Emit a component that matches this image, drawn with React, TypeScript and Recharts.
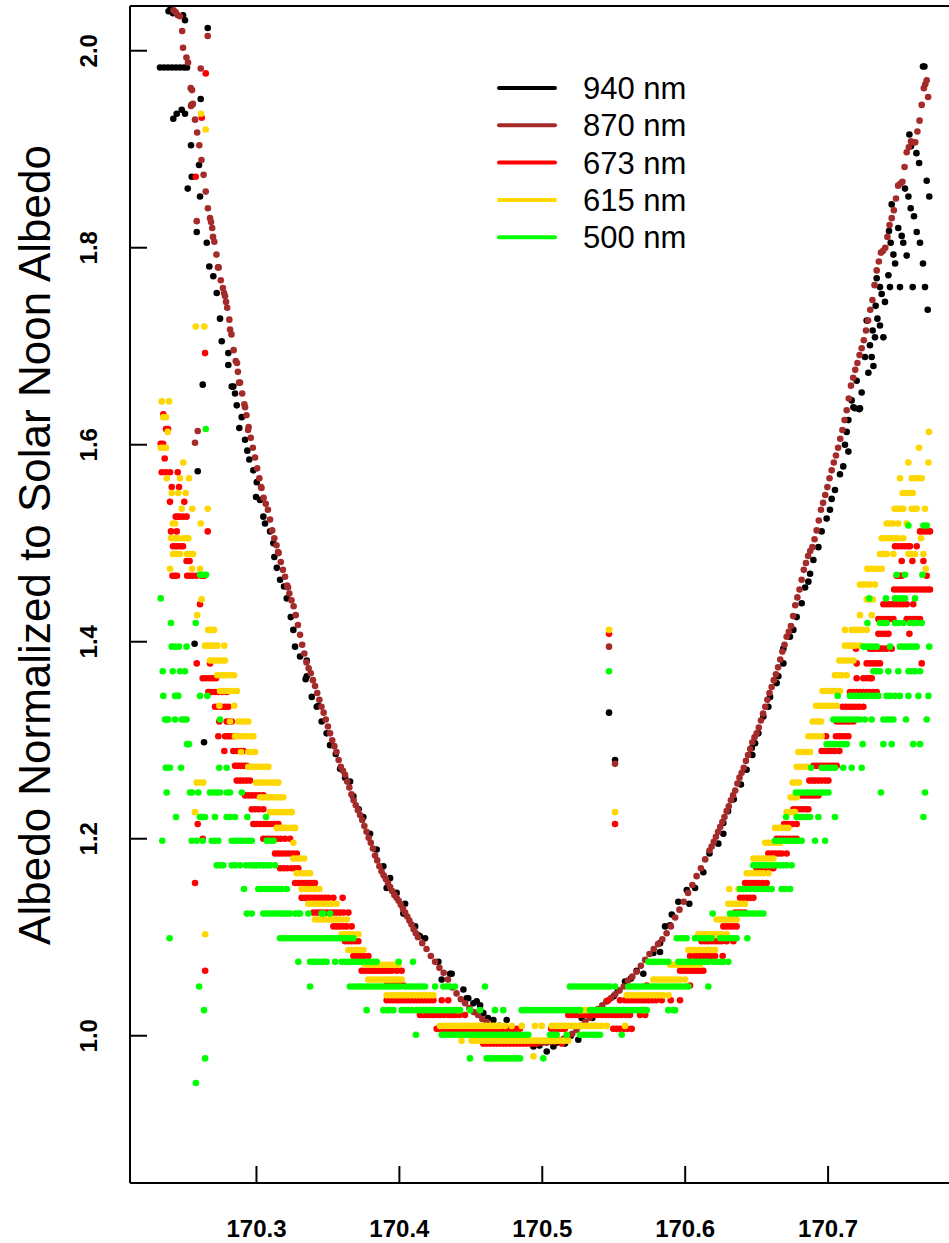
import React from 'react';
import { ScatterChart, Scatter, XAxis, YAxis, ReferenceLine } from 'recharts';

// ---------- axes ----------
const xDomain: [number, number] = [170.2115, 170.7923];
const yDomain: [number, number] = [0.8505, 2.0454];
const xTicks = [170.3, 170.4, 170.5, 170.6, 170.7];
const yTicks = [1.0, 1.2, 1.4, 1.6, 1.8, 2.0];
const yTitle = 'Albedo Normalized to Solar Noon Albedo';
const seriesNames = ['940 nm', '870 nm', '673 nm', '615 nm', '500 nm'];

// ---------- 940 nm (x, albedo) ----------
const nm940: [number, number][] = [
  [170.2325,1.983],[170.2353,1.983],[170.2381,1.983],[170.2409,1.983],[170.2437,1.983],[170.2465,1.983],[170.2493,1.983],[170.2514,1.983],
  [170.2385,2.040],[170.2400,2.044],[170.2416,2.038],[170.2486,2.036],[170.2500,2.031],
  [170.2418,1.931],[170.2442,1.936],[170.2477,1.940],[170.2500,1.936],[170.2547,1.945],[170.2610,1.951],
  [170.2542,1.904],[170.2598,1.884],[170.2547,1.872],[170.2519,1.860],[170.2605,1.852],[170.2582,1.816],[170.2652,1.805],[170.2670,1.781],
  [170.2698,1.771],[170.2722,1.754],[170.2745,1.728],[170.2757,1.705],[170.2803,1.693],[170.2803,1.681],[170.2838,1.659],
  [170.2659,2.023],[170.2624,1.661],[170.2589,1.573],[170.2567,1.398],[170.2633,1.298],
  [170.2827,1.659],[170.2850,1.652],[170.2862,1.640],[170.2897,1.628],[170.2880,1.617],[170.2920,1.605],[170.2936,1.594],[170.2950,1.585],
  [170.2978,1.574],[170.3002,1.562],[170.2997,1.547],[170.3025,1.544],[170.3048,1.527],[170.3060,1.520],[170.3095,1.512],[170.3118,1.500],
  [170.3125,1.486],[170.3142,1.475],[170.3165,1.463],[170.3193,1.456],[170.3212,1.444],[170.3240,1.425],[170.3258,1.412],[170.3270,1.395],
  [170.3305,1.385],[170.3352,1.365],[170.3387,1.344],[170.3422,1.334],[170.3456,1.319],[170.3491,1.307],[170.3515,1.295],
  [170.3344,1.362],[170.3352,1.381],[170.3433,1.335],[170.3555,1.286],[170.3585,1.271],[170.3620,1.262],[170.3655,1.258],[170.3678,1.243],
  [170.3715,1.230],[170.3748,1.222],[170.3795,1.205],[170.3841,1.189],[170.3888,1.172],[170.3935,1.160],[170.3981,1.145],[170.4040,1.134],
  [170.3911,1.150],[170.4028,1.124],[170.4110,1.111],[170.4133,1.102],[170.4144,1.101],[170.4180,1.099],[170.4273,1.075],[170.4296,1.057],
  [170.4355,1.063],[170.4366,1.063],[170.4448,1.047],[170.4471,1.038],[170.4482,1.038],[170.4518,1.033],[170.4541,1.035],[170.4565,1.031],
  [170.4565,1.026],[170.4588,1.023],[170.4620,1.018],[170.4658,1.016],[170.4700,1.010],[170.4751,1.016],[170.4800,1.003],[170.4850,0.998],
  [170.4880,0.993],[170.4938,0.989],[170.4980,0.990],[170.5031,0.984],[170.5078,0.989],[170.5100,0.993],[170.5159,0.992],[170.5200,1.000],
  [170.5252,0.996],[170.5276,1.018],[170.5311,1.021],[170.5350,1.018],[170.5400,1.025],[170.5451,1.035],[170.5500,1.040],[170.5530,1.046],
  [170.5579,1.055],[170.5620,1.058],[170.5660,1.066],[170.5707,1.063],[170.5777,1.084],[170.5824,1.085],[170.5824,1.094],[170.5859,1.111],
  [170.5894,1.112],[170.5906,1.123],[170.5952,1.136],[170.6011,1.148],[170.6029,1.134],[170.6069,1.150],[170.6127,1.166],[170.6170,1.185],
  [170.6232,1.195],[170.6267,1.205],[170.6267,1.216],[170.6300,1.228],[170.6340,1.240],[170.6390,1.255],[170.6430,1.270],[170.6466,1.292],
  [170.6470,1.285],[170.6489,1.297],[170.6512,1.307],[170.6547,1.324],[170.6582,1.334],[170.6594,1.344],[170.6640,1.358],[170.6652,1.365],
  [170.6687,1.378],[170.6687,1.393],[170.6733,1.405],[170.6757,1.412],[170.6780,1.425],[170.6815,1.439],[170.6839,1.455],[170.6862,1.461],
  [170.6874,1.469],[170.6897,1.483],[170.6932,1.496],[170.6955,1.512],[170.6990,1.525],[170.7013,1.534],[170.7025,1.545],[170.7048,1.554],
  [170.7083,1.570],[170.7106,1.578],[170.7142,1.593],[170.7118,1.600],[170.7130,1.613],[170.7142,1.625],[170.7177,1.638],[170.7218,1.636],
  [170.7165,1.645],[170.7188,1.637],[170.7223,1.637],[170.7235,1.653],[170.7200,1.665],[170.7282,1.673],[170.7317,1.680],[170.7258,1.689],
  [170.7305,1.689],[170.7293,1.701],[170.7328,1.709],[170.7387,1.709],[170.7312,1.716],[170.7363,1.721],[170.7345,1.728],[170.7270,1.726],
  [170.7333,1.741],[170.7398,1.745],[170.7375,1.753],[170.7697,1.737],[170.7363,1.760],[170.7433,1.760],[170.7503,1.760],[170.7592,1.760],
  [170.7678,1.760],[170.7340,1.769],[170.7422,1.772],[170.7469,1.784],[170.7664,1.784],[170.7457,1.793],[170.7550,1.792],[170.7438,1.805],
  [170.7526,1.805],[170.7643,1.805],[170.7515,1.812],[170.7426,1.817],[170.7491,1.820],[170.7620,1.816],[170.7601,1.832],[170.7445,1.844],
  [170.7578,1.840],[170.7538,1.860],[170.7562,1.852],[170.7690,1.868],[170.7708,1.852],[170.7637,1.886],[170.7618,1.896],[170.7569,1.915],
  [170.7580,1.903],[170.7664,1.984],[170.7674,1.984],[170.5467,1.328],[170.5509,1.280],
];

// ---------- 870 nm ----------
const nm870: [number, number][] = [
  [170.242,2.041],[170.2435,2.039],[170.245,2.036],[170.2465,2.035],[170.248,2.020],[170.2486,2.003],[170.251,1.993],[170.2521,1.988],
  [170.254,1.962],[170.2549,1.960],[170.2542,1.944],[170.2555,1.946],[170.257,1.930],[170.2585,1.917],[170.260,1.904],[170.2615,1.889],
  [170.263,1.874],[170.2645,1.857],[170.266,1.840],[170.2675,1.830],[170.2682,1.826],[170.269,1.820],[170.2696,1.811],[170.2705,1.806],
  [170.272,1.793],[170.2731,1.780],[170.2735,1.780],[170.275,1.767],[170.2765,1.759],[170.2773,1.754],[170.278,1.751],[170.2787,1.745],
  [170.2795,1.739],[170.281,1.727],[170.2815,1.717],[170.2825,1.712],[170.284,1.696],[170.2855,1.685],[170.2864,1.683],[170.287,1.674],
  [170.2878,1.663],[170.2885,1.663],[170.290,1.652],[170.2915,1.641],[170.292,1.638],[170.293,1.630],[170.2941,1.615],[170.2945,1.618],
  [170.296,1.607],[170.2975,1.597],[170.299,1.587],[170.3005,1.576],[170.302,1.566],[170.3032,1.557],[170.3035,1.556],[170.305,1.546],
  [170.3065,1.540],[170.308,1.534],[170.3095,1.524],[170.311,1.513],[170.3125,1.505],[170.314,1.498],[170.3151,1.491],[170.3155,1.490],
  [170.317,1.481],[170.3185,1.473],[170.320,1.466],[170.3215,1.457],[170.3221,1.455],[170.323,1.449],[170.3245,1.442],[170.326,1.436],
  [170.3275,1.427],[170.329,1.417],[170.3305,1.407],[170.332,1.397],[170.3335,1.388],[170.335,1.379],[170.3365,1.373],[170.338,1.368],
  [170.3395,1.361],[170.341,1.355],[170.3425,1.348],[170.344,1.341],[170.3455,1.334],[170.347,1.328],[170.3485,1.321],[170.350,1.314],
  [170.3515,1.307],[170.353,1.300],[170.3545,1.294],[170.356,1.288],[170.3575,1.280],[170.359,1.273],[170.3605,1.269],[170.362,1.265],
  [170.3635,1.258],[170.365,1.252],[170.3665,1.245],[170.368,1.239],[170.3695,1.234],[170.371,1.229],[170.3725,1.224],[170.374,1.219],
  [170.3755,1.213],[170.377,1.207],[170.3785,1.201],[170.380,1.196],[170.3815,1.190],[170.383,1.183],[170.3845,1.178],[170.386,1.172],
  [170.3875,1.167],[170.389,1.163],[170.3905,1.159],[170.392,1.155],[170.3935,1.151],[170.395,1.147],[170.3965,1.143],[170.398,1.140],
  [170.3995,1.137],[170.401,1.133],[170.4025,1.129],[170.404,1.125],[170.4055,1.121],[170.407,1.117],[170.4085,1.113],[170.410,1.108],
  [170.4115,1.104],[170.413,1.100],[170.416,1.094],[170.419,1.088],[170.422,1.081],[170.425,1.075],[170.428,1.069],[170.431,1.064],
  [170.434,1.057],[170.437,1.049],[170.440,1.043],[170.443,1.037],[170.446,1.033],[170.449,1.028],[170.452,1.024],[170.455,1.021],
  [170.458,1.017],[170.461,1.014],[170.464,1.010],[170.467,1.007],[170.470,1.004],[170.473,1.001],[170.476,0.999],[170.479,0.997],
  [170.482,0.996],[170.485,0.995],[170.488,0.994],[170.491,0.993],[170.494,0.993],[170.497,0.993],[170.500,0.993],[170.503,0.993],
  [170.506,0.994],[170.509,0.994],[170.512,0.995],[170.515,0.997],[170.518,0.999],[170.521,1.002],[170.524,1.006],[170.527,1.010],
  [170.530,1.014],[170.533,1.018],[170.536,1.022],[170.539,1.027],[170.542,1.031],[170.545,1.035],[170.548,1.038],[170.551,1.042],
  [170.554,1.046],[170.557,1.050],[170.560,1.056],[170.563,1.060],[170.566,1.065],[170.569,1.071],[170.572,1.077],[170.575,1.083],
  [170.578,1.088],[170.581,1.093],[170.584,1.098],[170.587,1.104],[170.590,1.111],[170.593,1.120],[170.596,1.128],[170.599,1.136],
  [170.602,1.145],[170.605,1.153],[170.608,1.162],[170.611,1.170],[170.614,1.179],[170.617,1.188],[170.6185,1.192],[170.620,1.197],
  [170.6215,1.202],[170.623,1.207],[170.6245,1.212],[170.626,1.217],[170.6275,1.222],[170.629,1.228],[170.6305,1.233],[170.632,1.239],
  [170.6335,1.244],[170.635,1.249],[170.6365,1.256],[170.638,1.262],[170.6395,1.267],[170.641,1.272],[170.6425,1.279],[170.644,1.285],
  [170.6455,1.291],[170.647,1.298],[170.6485,1.303],[170.650,1.307],[170.6515,1.313],[170.653,1.320],[170.6545,1.327],[170.656,1.334],
  [170.6575,1.341],[170.659,1.348],[170.6605,1.354],[170.662,1.361],[170.6635,1.367],[170.665,1.374],[170.6665,1.382],[170.668,1.390],
  [170.6695,1.397],[170.671,1.405],[170.6725,1.410],[170.674,1.416],[170.6755,1.426],[170.677,1.437],[170.6785,1.445],[170.680,1.453],
  [170.6815,1.463],[170.683,1.473],[170.6845,1.480],[170.686,1.487],[170.6875,1.492],[170.689,1.496],[170.6905,1.504],[170.692,1.513],
  [170.6935,1.523],[170.695,1.534],[170.6965,1.541],[170.698,1.549],[170.6995,1.557],[170.701,1.566],[170.7025,1.574],[170.704,1.582],
  [170.7055,1.589],[170.707,1.597],[170.7085,1.606],[170.710,1.615],[170.7115,1.625],[170.713,1.635],[170.7145,1.647],[170.716,1.660],
  [170.7175,1.668],[170.719,1.676],[170.7205,1.683],[170.722,1.691],[170.7235,1.698],[170.725,1.706],[170.7265,1.716],[170.728,1.726],
  [170.7295,1.737],[170.731,1.747],[170.7325,1.762],[170.734,1.777],[170.7355,1.786],[170.737,1.795],[170.7385,1.797],[170.740,1.800],
  [170.7415,1.811],[170.743,1.823],[170.7445,1.830],[170.746,1.838],[170.7475,1.850],[170.749,1.863],[170.7505,1.865],[170.752,1.867],
  [170.7535,1.882],[170.755,1.897],[170.7565,1.902],[170.758,1.908],[170.7595,1.907],[170.761,1.907],[170.7625,1.918],[170.764,1.929],
  [170.7655,1.945],[170.767,1.962],[170.768,1.966],[170.769,1.970],[170.770,1.953],
  [170.2659,2.015],[170.2610,1.982],[170.2582,1.827],[170.2589,1.614],[170.2570,1.602],[170.5467,1.395],[170.5509,1.276],
];

// ---------- 673 nm: [albedo level, x values] ----------
const nm673Rows: [number, number[]][] = [
  [1.977,[170.2645]],[1.932,[170.2617]],[1.872,[170.2575]],[1.693,[170.2640]],
  [1.631,[170.2348]],
  [1.616,[170.2367,170.2381]],
  [1.601,[170.2330,170.2346]],
  [1.586,[170.2358]],
  [1.572,[170.2337,170.2365,170.2395,170.2449]],
  [1.557,[170.2407,170.2458]],
  [1.542,[170.2395,170.2495]],
  [1.527,[170.2435,170.2451,170.2465,170.2488,170.2511]],
  [1.512,[170.2402,170.2442,170.2659,170.7643,170.7667,170.7690,170.7713]],
  [1.497,[170.2416,170.2435,170.2451,170.2470,170.2486,170.7468,170.7491,170.7515,170.7538,170.7561,170.7573,170.7620]],
  [1.482,[170.2511,170.2532,170.7515,170.7590,170.7667]],
  [1.467,[170.2412,170.2430,170.2444,170.2515,170.2535,170.2555,170.2580,170.2615,170.2635,170.7480,170.7500,170.7515,170.7690]],
  [1.453,[170.7462,170.7485,170.7508,170.7531,170.7555,170.7578,170.7601,170.7625,170.7648,170.7672,170.7695,170.7713]],
  [1.438,[170.2605,170.7387,170.7410,170.7433,170.7457,170.7480,170.7503,170.7526,170.7550,170.7596]],
  [1.423,[170.7352,170.7375,170.7400,170.7430,170.7457,170.7550,170.7573,170.7596,170.7620,170.7643]],
  [1.408,[170.5467,170.7352,170.7375,170.7398,170.7422,170.7569]],
  [1.393,[170.7195,170.7293,170.7316,170.7340,170.7363,170.7387,170.7410,170.7445]],
  [1.378,[170.2582,170.2675,170.7200,170.7270,170.7293,170.7316,170.7340,170.7363,170.7655]],
  [1.363,[170.2624,170.2645,170.2670,170.2694,170.2717,170.7200,170.7247,170.7270,170.7293,170.7305]],
  [1.349,[170.2663,170.2685,170.2710,170.2735,170.2760,170.2792,170.7153,170.7176,170.7200,170.7223,170.7246,170.7270,170.7293,170.7316,170.7340]],
  [1.334,[170.2710,170.2733,170.2756,170.2780,170.2803,170.7102,170.7125,170.7148,170.7172,170.7195,170.7218,170.7247]],
  [1.319,[170.2740,170.2792,170.2810,170.2827,170.7060,170.7083,170.7106,170.7130,170.7153,170.7177]],
  [1.304,[170.2733,170.2780,170.2800,170.2820,170.2843,170.6986,170.7055,170.7078,170.7100,170.7120,170.7142]],
  [1.289,[170.2775,170.2838,170.2860,170.2885,170.2908,170.6955,170.6978,170.7002,170.7025,170.7048,170.7079]],
  [1.274,[170.2850,170.2870,170.2890,170.2912,170.2932,170.6897,170.6920,170.6944,170.6967,170.6990,170.7013,170.7036,170.7060]],
  [1.259,[170.2862,170.2885,170.2908,170.2932,170.2955,170.6869,170.6890,170.6909,170.6932,170.6955,170.6980,170.7002]],
  [1.244,[170.2920,170.2945,170.2970,170.2995,170.3020,170.3048,170.6815,170.6838,170.6862,170.6885,170.6909,170.6932]],
  [1.230,[170.2967,170.2990,170.3015,170.3048,170.6757,170.6780,170.6804,170.6827,170.6850,170.6862]],
  [1.215,[170.2589,170.2978,170.3000,170.3025,170.3050,170.3075,170.3100,170.3125,170.3153,170.5509,170.6692,170.6710,170.6727,170.6750,170.6780]],
  [1.200,[170.2624,170.3048,170.3072,170.3095,170.3120,170.3145,170.3170,170.3200,170.3235,170.6640,170.6664,170.6687,170.6710,170.6733,170.6757,170.6780]],
  [1.185,[170.3130,170.3155,170.3180,170.3205,170.3230,170.3255,170.3282,170.6582,170.6605,170.6628,170.6652,170.6675,170.6710]],
  [1.170,[170.3165,170.3190,170.3215,170.3245,170.3270,170.3293,170.6500,170.6524,170.6547,170.6570,170.6594,170.6617]],
  [1.155,[170.2570,170.3270,170.3293,170.3316,170.3340,170.3365,170.3390,170.3409,170.6419,170.6442,170.6466,170.6489,170.6512,170.6540,170.6570]],
  [1.140,[170.3316,170.3340,170.3363,170.3386,170.3409,170.3433,170.3456,170.3480,170.3503,170.3538,170.3603,170.6384,170.6407,170.6431,170.6454,170.6477]],
  [1.125,[170.3398,170.3421,170.3444,170.3467,170.3491,170.3515,170.3538,170.3561,170.3584,170.3610,170.3643,170.6349,170.6372,170.6395,170.6419]],
  [1.111,[170.3538,170.3561,170.3584,170.3608,170.3631,170.3666,170.6267,170.6290,170.6314,170.6337,170.6360]],
  [1.096,[170.3620,170.3643,170.3666,170.3690,170.3713,170.6115,170.6139,170.6162,170.6185,170.6209,170.6232,170.6255,170.6290,170.6337]],
  [1.081,[170.3678,170.3700,170.3725,170.3750,170.3783,170.6034,170.6069,170.6092,170.6115,170.6139,170.6162,170.6185,170.6209,170.6262]],
  [1.066,[170.2641,170.3736,170.3760,170.3783,170.3806,170.3830,170.3853,170.3876,170.3900,170.3923,170.3946,170.3982,170.4016,170.5964,170.5987,170.6010,170.6034,170.6057,170.6080,170.6103,170.6127]],
  [1.051,[170.3911,170.3935,170.3958,170.3982,170.4005,170.4030,170.5731,170.6034]],
  [1.036,[170.3911,170.3935,170.3958,170.3982,170.4005,170.4028,170.4052,170.4075,170.4098,170.4121,170.4145,170.4168,170.4191,170.4214,170.4238,170.4296,170.4342,170.5462,170.5544,170.5579,170.5602,170.5626,170.5650,170.5673,170.5696,170.5719,170.5745,170.5770,170.5797,170.5836,170.5899,170.5964]],
  [1.021,[170.4144,170.4168,170.4191,170.4214,170.4237,170.4261,170.4284,170.4310,170.4342,170.4365,170.4390,170.4420,170.4459,170.5182,170.5205,170.5229,170.5252,170.5276,170.5299,170.5322,170.5346,170.5369,170.5392,170.5416,170.5440,170.5462,170.5486,170.5509,170.5532,170.5556,170.5585,170.5614,170.5684,170.5720]],
  [1.007,[170.4261,170.4284,170.4308,170.4331,170.4354,170.4377,170.4400,170.4424,170.4447,170.4470,170.4494,170.4517,170.4540,170.4564,170.4587,170.4610,170.4634,170.4657,170.4680,170.4704,170.4727,170.4750,170.4774,170.4797,170.4820,170.4844,170.5062,170.5085,170.5110,170.5135,170.5158,170.5497,170.5520,170.5545,170.5570,170.5596,170.5626]],
  [0.992,[170.4587,170.4610,170.4634,170.4657,170.4680,170.4704,170.4727,170.4750,170.4774,170.4797,170.4820,170.4844,170.4867,170.4890,170.4914,170.4937,170.4960,170.5136]],
];

// ---------- 615 nm ----------
const nm615Rows: [number, number[]][] = [
  [1.936,[170.2612]],[1.920,[170.2645]],[1.720,[170.2575,170.2635]],
  [1.644,[170.2337,170.2388]],
  [1.628,[170.2348,170.2367]],
  [1.613,[170.2379,170.7706]],
  [1.597,[170.2330,170.2348,170.2367,170.7636]],
  [1.582,[170.2488,170.7562,170.7702]],
  [1.566,[170.2372,170.2465,170.2528,170.7503,170.7585,170.7608,170.7631,170.7655]],
  [1.551,[170.2407,170.2453,170.2505,170.7522,170.7545,170.7568,170.7592]],
  [1.535,[170.2477,170.2551,170.2659,170.7465,170.7488,170.7511,170.7526,170.7585,170.7603,170.7620,170.7678]],
  [1.520,[170.2414,170.2430,170.2610,170.7410,170.7433,170.7456,170.7491,170.7550]],
  [1.505,[170.2402,170.2420,170.2438,170.2455,170.2490,170.2505,170.2523,170.7375,170.7398,170.7421,170.7445,170.7468,170.7491,170.7526,170.7650]],
  [1.489,[170.2416,170.2432,170.2449,170.2465,170.2514,170.2535,170.2556,170.7363,170.7386,170.7410,170.7457,170.7562,170.7585,170.7608,170.7667]],
  [1.474,[170.2395,170.2549,170.2605,170.7275,170.7298,170.7321,170.7345,170.7375,170.7683]],
  [1.458,[170.7223,170.7246,170.7270,170.7293,170.7328]],
  [1.443,[170.2616,170.7270,170.7293,170.7312]],
  [1.427,[170.2585,170.7223,170.7305]],
  [1.412,[170.2663,170.2683,170.2703,170.5467,170.7118,170.7165,170.7188,170.7211,170.7235,170.7270]],
  [1.396,[170.2640,170.2660,170.2683,170.2705,170.2726,170.2775,170.7118,170.7141,170.7164,170.7188,170.7223]],
  [1.381,[170.2675,170.2696,170.2717,170.2738,170.2760,170.2780,170.7079,170.7100,170.7123,170.7146,170.7177]],
  [1.366,[170.2726,170.2749,170.2772,170.2795,170.2819,170.2843,170.7048,170.7071,170.7095,170.7130]],
  [1.350,[170.2745,170.2768,170.2791,170.2815,170.2838,170.2862,170.6962,170.6985,170.7008,170.7031,170.7055,170.7083]],
  [1.335,[170.2740,170.2845,170.6916,170.6940,170.6963,170.6986,170.7010,170.7033,170.7060]],
  [1.319,[170.2815,170.2873,170.2896,170.2920,170.2943,170.6892,170.6915,170.6938,170.6951]],
  [1.304,[170.2850,170.2873,170.2896,170.2920,170.2943,170.2966,170.2978,170.6862,170.6885,170.6908,170.6932,170.6955]],
  [1.288,[170.2892,170.2943,170.2966,170.2990,170.6792,170.6815,170.6838,170.6860,170.6874]],
  [1.273,[170.2943,170.2966,170.2990,170.3013,170.3036,170.3060,170.3083,170.6780,170.6803,170.6826,170.6850]],
  [1.257,[170.2582,170.2605,170.2628,170.2997,170.3020,170.3043,170.3066,170.3090,170.3113,170.3136,170.3153,170.6752,170.6775,170.6797]],
  [1.242,[170.3025,170.3048,170.3072,170.3095,170.3118,170.3142,170.3165,170.3188,170.6738,170.6760,170.6780]],
  [1.227,[170.2570,170.3095,170.3118,170.3142,170.3165,170.3188,170.3212,170.3235,170.3247,170.5509,170.6710,170.6733,170.6757,170.6768]],
  [1.211,[170.3142,170.3165,170.3188,170.3212,170.3235,170.3258,170.3270,170.6629,170.6652,170.6675,170.6698,170.6722]],
  [1.196,[170.3258,170.6559,170.6582,170.6605,170.6628,170.6652,170.6664]],
  [1.180,[170.3258,170.3282,170.3305,170.3333,170.6477,170.6500,170.6524,170.6547,170.6571,170.6594,170.6617]],
  [1.165,[170.3282,170.3305,170.3328,170.3352,170.3375,170.6431,170.6454,170.6477,170.6500,170.6524,170.6547,170.6582]],
  [1.149,[170.3316,170.3340,170.3363,170.3386,170.3409,170.3440,170.6309,170.6372,170.6395,170.6407]],
  [1.134,[170.3363,170.3386,170.3409,170.3433,170.3456,170.3480,170.3503,170.3526,170.3561,170.6302,170.6325,170.6349,170.6372,170.6395,170.6419]],
  [1.118,[170.3409,170.3433,170.3456,170.3480,170.3503,170.3526,170.3549,170.3573,170.3596,170.3631,170.6220,170.6243,170.6267,170.6290,170.6314,170.6337,170.6360]],
  [1.103,[170.2641,170.3596,170.3620,170.3643,170.3666,170.3690,170.3713,170.6092,170.6115,170.6139,170.6162,170.6185,170.6209,170.6232,170.6255,170.6291]],
  [1.087,[170.3643,170.3666,170.3690,170.3713,170.3736,170.3748,170.6022,170.6045,170.6069,170.6092,170.6115,170.6139,170.6162,170.6185,170.6209]],
  [1.072,[170.3760,170.3783,170.3806,170.3830,170.3853,170.3876,170.3900,170.3923,170.3946,170.3970,170.3993,170.5894,170.5917,170.5941,170.5964,170.5987,170.6010,170.6034,170.6057,170.6080,170.6104]],
  [1.057,[170.3783,170.3806,170.3830,170.3853,170.3876,170.3900,170.3923,170.3946,170.3970,170.3993,170.4016,170.5777,170.5800,170.5824,170.5847,170.5870,170.5894,170.5917,170.5940,170.5964,170.5999]],
  [1.041,[170.3911,170.3935,170.3958,170.3982,170.4005,170.4028,170.4052,170.4075,170.4098,170.4121,170.4145,170.4168,170.4191,170.4214,170.4238,170.5591,170.5614,170.5638,170.5661,170.5684,170.5708,170.5731,170.5755,170.5778,170.5801,170.5824,170.5848,170.5883]],
  [1.026,[170.4110,170.4168,170.4412,170.5264,170.5287,170.5311,170.5707]],
  [1.010,[170.4284,170.4307,170.4330,170.4354,170.4377,170.4400,170.4424,170.4447,170.4470,170.4494,170.4517,170.4540,170.4563,170.4587,170.4610,170.4634,170.4657,170.4680,170.4704,170.4739,170.4786,170.4856,170.4949,170.4996,170.5066,170.5089,170.5112,170.5136,170.5159,170.5182,170.5206,170.5229,170.5252,170.5276,170.5299,170.5322,170.5346,170.5369,170.5392,170.5416,170.5451,170.5579]],
  [0.995,[170.4436,170.4506,170.4530,170.4553,170.4576,170.4599,170.4622,170.4646,170.4669,170.4692,170.4716,170.4739,170.4762,170.4786,170.4809,170.4832,170.4856,170.4879,170.4902,170.4926,170.4949,170.4972,170.4996,170.5019,170.5042,170.5066,170.5089,170.5112,170.5136,170.5159,170.5182]],
  [0.979,[170.4938]],
];

// ---------- 500 nm ----------
const nm500Rows: [number, number[]][] = [
  [1.616,[170.2645]],
  [1.518,[170.7562,170.7667,170.7690]],
  [1.468,[170.2605,170.2626,170.2647,170.7480,170.7538,170.7660]],
  [1.444,[170.2330,170.7288,170.7405,170.7468,170.7491,170.7515,170.7538,170.7608]],
  [1.419,[170.2402,170.2575,170.7275,170.7363,170.7386,170.7410,170.7468,170.7491,170.7526,170.7573,170.7596,170.7620,170.7655]],
  [1.395,[170.2407,170.2430,170.2458,170.2511,170.7247,170.7270,170.7293,170.7316,170.7340,170.7433,170.7503,170.7526,170.7550,170.7573,170.7596,170.7620,170.7708]],
  [1.370,[170.2344,170.2414,170.2465,170.2500,170.5467,170.7317,170.7340,170.7363,170.7422,170.7491,170.7562,170.7585,170.7608,170.7643]],
  [1.345,[170.2348,170.2430,170.2445,170.2453,170.2605,170.2656,170.7067,170.7153,170.7177,170.7200,170.7223,170.7247,170.7270,170.7293,170.7316,170.7340,170.7352,170.7410,170.7433,170.7468,170.7503,170.7562,170.7632,170.7702]],
  [1.321,[170.2360,170.2372,170.2383,170.2430,170.2477,170.2495,170.2511,170.2745,170.7037,170.7060,170.7083,170.7106,170.7130,170.7153,170.7177,170.7200,170.7223,170.7258,170.7305,170.7387,170.7410,170.7433,170.7457,170.7545,170.7690]],
  [1.296,[170.2515,170.2528,170.6990,170.7013,170.7037,170.7060,170.7083,170.7106,170.7130,170.7242,170.7387,170.7445,170.7596,170.7643]],
  [1.272,[170.2365,170.2380,170.2395,170.2472,170.2740,170.2792,170.6880,170.6955,170.6978,170.7002,170.7025,170.7048,170.7106,170.7165,170.7235]],
  [1.247,[170.2372,170.2535,170.2550,170.2593,170.2675,170.2700,170.2722,170.2745,170.2792,170.2815,170.2897,170.6775,170.6798,170.6822,170.6845,170.6862,170.6885,170.6909,170.6932,170.6955,170.6978,170.7002,170.7370,170.7678]],
  [1.222,[170.2437,170.2605,170.2622,170.2640,170.2710,170.2792,170.2815,170.2850,170.2936,170.3067,170.6706,170.6780,170.6803,170.6827,170.6850,170.6874,170.6932,170.7048,170.7667]],
  [1.198,[170.2341,170.2547,170.2582,170.2624,170.2687,170.2710,170.2733,170.2827,170.2850,170.2873,170.2896,170.2920,170.2943,170.2967,170.3072,170.3095,170.3119,170.6628,170.6651,170.6675,170.6698,170.6722,170.6745,170.6768,170.6792,170.6815,170.6909,170.6979]],
  [1.173,[170.2722,170.2745,170.2768,170.2827,170.2850,170.2885,170.2927,170.2955,170.2978,170.3002,170.3025,170.3048,170.3072,170.3095,170.3130,170.6477,170.6500,170.6524,170.6547,170.6571,170.6594,170.6617,170.6640,170.6664,170.6687,170.6710,170.6745]],
  [1.149,[170.2913,170.3013,170.3036,170.3060,170.3083,170.3107,170.3130,170.3153,170.3176,170.3212,170.6384,170.6407,170.6431,170.6454,170.6489,170.6512,170.6535,170.6559,170.6582,170.6605,170.6675,170.6700,170.6734]],
  [1.124,[170.2932,170.2967,170.3048,170.3072,170.3095,170.3118,170.3142,170.3165,170.3189,170.3212,170.3235,170.3270,170.3294,170.3305,170.3363,170.3456,170.3468,170.3515,170.6192,170.6314,170.6337,170.6360,170.6384,170.6407,170.6430,170.6454,170.6477,170.6500,170.6524,170.6547]],
  [1.099,[170.2392,170.3165,170.3188,170.3212,170.3235,170.3258,170.3282,170.3305,170.3328,170.3352,170.3375,170.3398,170.3421,170.3445,170.3468,170.3491,170.3515,170.3538,170.3561,170.3584,170.3608,170.3631,170.3654,170.3678,170.5941,170.5964,170.5987,170.6010,170.6069,170.6092,170.6115,170.6139,170.6162,170.6185,170.6244,170.6267,170.6291,170.6314,170.6337,170.6360,170.6435]],
  [1.075,[170.3293,170.3375,170.3398,170.3422,170.3445,170.3468,170.3491,170.3550,170.3596,170.3620,170.3643,170.3666,170.3690,170.3713,170.3736,170.3771,170.3795,170.3818,170.3841,170.3995,170.4095,170.5742,170.5766,170.5789,170.5812,170.5836,170.5859,170.5882,170.5952,170.5975,170.5999,170.6022,170.6045,170.6069,170.6092,170.6115,170.6139,170.6162,170.6197,170.6220,170.6244,170.6267,170.6302]],
  [1.050,[170.2599,170.3375,170.3654,170.3678,170.3701,170.3725,170.3748,170.3771,170.3795,170.3818,170.3841,170.3865,170.3888,170.3912,170.3935,170.3958,170.3982,170.4005,170.4040,170.4063,170.4086,170.4110,170.4133,170.4156,170.4179,170.4250,170.4308,170.4331,170.4354,170.4389,170.4599,170.5194,170.5217,170.5240,170.5264,170.5287,170.5311,170.5334,170.5357,170.5381,170.5404,170.5427,170.5451,170.5474,170.5509,170.5602,170.5626,170.5649,170.5672,170.5696,170.5719,170.5742,170.5766,170.5789,170.5812,170.5836,170.5859,170.5882,170.5906,170.5929,170.5952,170.5975,170.6000,170.6022,170.6162]],
  [1.026,[170.2633,170.3771,170.3888,170.3912,170.3935,170.3958,170.4016,170.4040,170.4063,170.4086,170.4121,170.4144,170.4168,170.4191,170.4214,170.4238,170.4261,170.4284,170.4308,170.4331,170.4354,170.4377,170.4400,170.4424,170.4494,170.4564,170.4669,170.4727,170.4856,170.4879,170.4902,170.4926,170.4949,170.4972,170.4996,170.5019,170.5042,170.5066,170.5089,170.5112,170.5136,170.5159,170.5182,170.5206,170.5229,170.5252,170.5264,170.5334,170.5357,170.5381,170.5404,170.5427,170.5451,170.5474,170.5497,170.5521,170.5544,170.5567,170.5591,170.5614,170.5638,170.5661,170.5684,170.5708,170.5731,170.5882,170.5917,170.5929]],
  [1.001,[170.4116,170.4296,170.4319,170.4342,170.4366,170.4389,170.4412,170.4436,170.4459,170.4482,170.4506,170.4529,170.4552,170.4576,170.4599,170.4622,170.4646,170.4669,170.4692,170.4715,170.4739,170.4762,170.4786,170.4809,170.4832,170.4856,170.4879,170.4902,170.5054,170.5078,170.5101,170.5171,170.5264,170.5287,170.5311,170.5334,170.5357,170.5381,170.5404,170.5556]],
  [0.977,[170.2641,170.4494,170.4611,170.4634,170.4657,170.4680,170.4704,170.4727,170.4750,170.4774,170.4797,170.4820,170.4844,170.5007]],
  [0.952,[170.2576]],
];

// ---------- styles ----------
const colors = ['#000000', '#A52A2A', '#FF0000', '#FFD700', '#00FF00'];
const FONT = "'Liberation Sans', Arial, Helvetica, sans-serif";
const TICK_FONT = "'Liberation Sans Narrow', 'Liberation Sans', Arial, sans-serif";
const CHART_W = 960;
const CHART_H = 1243;
const AXIS_X = 130;
const AXIS_Y = 1183;
const TICK_LEN = 17;
const DOT_R = 3.3;

type Pt = { x: number; y: number };
const fromPairs = (pairs: [number, number][]): Pt[] => pairs.map(([x, y]) => ({ x, y }));
const fromRows = (rows: [number, number[]][]): Pt[] =>
  rows.flatMap(([y, xs]) => xs.map((x) => ({ x, y })));

const seriesData: Pt[][] = [
  fromPairs(nm940),
  fromPairs(nm870),
  fromRows(nm673Rows),
  fromRows(nm615Rows),
  fromRows(nm500Rows),
];

const makeDot = (color: string) => (props: any) => {
  if (props.cx == null || props.cy == null) return <g />;
  return <circle cx={props.cx} cy={props.cy} r={DOT_R} fill={color} />;
};

const XTick = (props: any) => {
  const { x, payload } = props;
  return (
    <g>
      <line x1={x} x2={x} y1={AXIS_Y} y2={AXIS_Y - TICK_LEN} stroke="#000" strokeWidth={2} />
      <text x={x} y={AXIS_Y + 54} textAnchor="middle" fontSize={24} fontWeight="bold" fontFamily={TICK_FONT} fill="#000">
        {Number(payload.value).toFixed(1)}
      </text>
    </g>
  );
};

const YTick = (props: any) => {
  const { y, payload } = props;
  return (
    <g>
      <line x1={AXIS_X} x2={AXIS_X + TICK_LEN} y1={y} y2={y} stroke="#000" strokeWidth={2} />
      <text
        transform={`translate(97,${y}) rotate(-90)`}
        textAnchor="middle"
        fontSize={24}
        fontWeight="bold"
        fontFamily={TICK_FONT}
        fill="#000"
      >
        {Number(payload.value).toFixed(1)}
      </text>
    </g>
  );
};

export default function App() {
  return (
    <div
      style={{
        position: 'absolute',
        left: 0,
        top: 0,
        width: 949,
        height: 1243,
        overflow: 'hidden',
        background: '#ffffff',
      }}
    >
      <ScatterChart width={CHART_W} height={CHART_H} margin={{ top: 6, right: 0, bottom: 0, left: 0 }}>
        <XAxis
          type="number"
          dataKey="x"
          domain={xDomain}
          ticks={xTicks}
          allowDataOverflow
          height={60}
          tickSize={0}
          tickMargin={0}
          tickLine={false}
          axisLine={{ stroke: '#000', strokeWidth: 2 }}
          tick={<XTick />}
        />
        <YAxis
          type="number"
          dataKey="y"
          domain={yDomain}
          ticks={yTicks}
          allowDataOverflow
          width={130}
          tickSize={0}
          tickMargin={0}
          tickLine={false}
          axisLine={{ stroke: '#000', strokeWidth: 2 }}
          tick={<YTick />}
        />
        <ReferenceLine y={yDomain[1]} stroke="#000" strokeWidth={2} />
        {seriesData.map((d, i) => (
          <Scatter
            key={seriesNames[i]}
            name={seriesNames[i]}
            data={d}
            fill={colors[i]}
            shape={makeDot(colors[i])}
            isAnimationActive={false}
          />
        ))}
      </ScatterChart>
      <svg
        width={949}
        height={1243}
        style={{ position: 'absolute', left: 0, top: 0, pointerEvents: 'none' }}
      >
        <text
          transform="translate(50,545) rotate(-90)"
          textAnchor="middle"
          fontSize={44}
          fontFamily={FONT}
          fill="#000"
        >
          {yTitle}
        </text>
        {seriesNames.map((n, i) => {
          const ly = 88 + i * 37.3;
          return (
            <g key={n}>
              <line x1={499} x2={555} y1={ly} y2={ly} stroke={colors[i]} strokeWidth={4} strokeLinecap="round" />
              <text x={583} y={ly + 11} fontSize={31} fontFamily={FONT} fill="#000">
                {n}
              </text>
            </g>
          );
        })}
      </svg>
    </div>
  );
}
